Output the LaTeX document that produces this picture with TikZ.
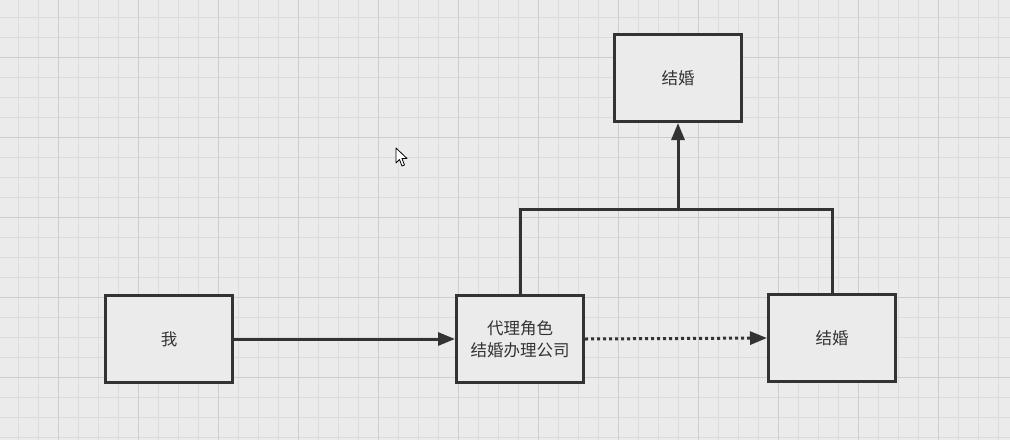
\documentclass[tikz,border=0pt]{standalone}
\usepackage{fontspec}
\newfontfamily\cjk{Noto Sans CJK SC}
\usetikzlibrary{arrows.meta}
\definecolor{bgc}{HTML}{EBEBEB}
\definecolor{gridminor}{HTML}{DCDCDC}
\definecolor{gridmajor}{HTML}{CDCDCD}
\definecolor{ink}{HTML}{333333}
\tikzset{
  box/.style={draw=ink, line width=3pt, fill=bgc, minimum width=127pt, minimum height=87pt, inner sep=0pt, align=center, font=\cjk\fontsize{16.5}{21.5}\selectfont, text=ink},
  conn/.style={draw=ink, line width=3pt},
  tip/.style={-{Triangle[length=17pt,width=13pt]}},
}
\begin{document}
\begin{tikzpicture}[x=1pt,y=-1pt]
\fill[bgc] (0,0) rectangle (1010,440);
\useasboundingbox (0,0) rectangle (1010,440);
\foreach \x in {18,38,...,1010} \draw[gridminor, line width=1pt] (\x,0) -- (\x,440);
\foreach \y in {17,37,...,440} \draw[gridminor, line width=1pt] (0,\y) -- (1010,\y);
\foreach \x in {58,138,...,1010} \draw[gridmajor, line width=1pt] (\x,0) -- (\x,440);
\foreach \y in {57,137,...,440} \draw[gridmajor, line width=1pt] (0,\y) -- (1010,\y);

\node[box] (me) at (169,339) {我};
\node[box] (agent) at (520,339) {代理角色\\结婚办理公司};
\node[box] (wed) at (832,338) {结婚};
\node[box] (top) at (678,78) {结婚};

\coordinate (j) at (678,209);

\draw[conn, tip] (me.east) -- (agent.west);
\draw[conn, tip, dash pattern=on 3pt off 3pt] (agent.east) -- (wed.west);
\draw[conn] (agent.north) |- (j);
\draw[conn] (wed.north) |- (j);
\draw[conn, tip] (j) -- (top.south);

% mouse cursor
\draw[black, fill=white, line width=0.8pt, line join=round]
  (396,148) -- (396,163) -- (399.5,159.5) -- (402,166) -- (404.5,165) -- (402,158.5) -- (407,158.5) -- cycle;
\end{tikzpicture}
\end{document}
